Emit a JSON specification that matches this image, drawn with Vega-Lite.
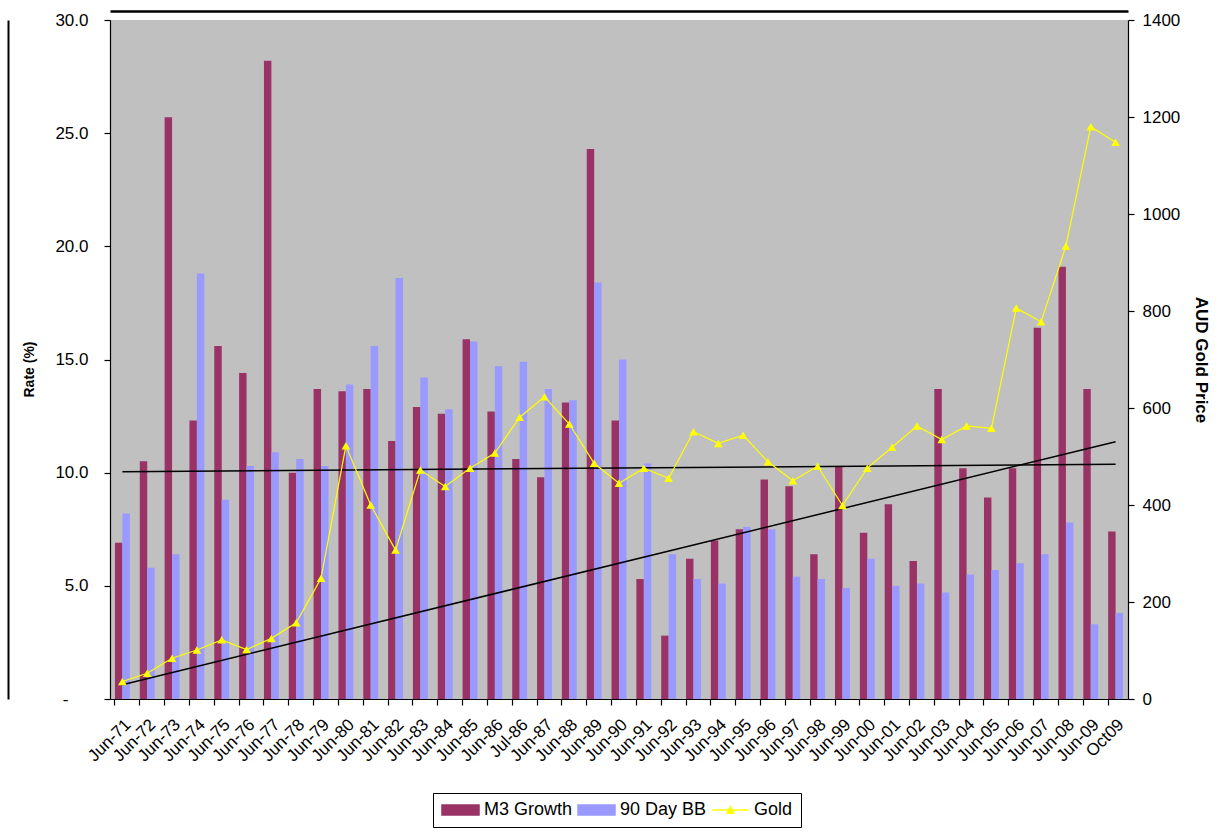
{
  "$schema": "https://vega.github.io/schema/vega-lite/v6.json",
  "autosize": {"type": "none"},
  "padding": {"left": 110, "top": 20, "right": 92, "bottom": 133},
  "width": 1018,
  "height": 679,
  "background": "#FFFFFF",
  "config": {
    "font": "Liberation Sans",
    "view": {"fill": "#C0C0C0", "stroke": null},
    "axis": {
      "grid": false,
      "domainColor": "#000000",
      "domainWidth": 1.2,
      "tickColor": "#000000",
      "tickWidth": 1.2,
      "labelColor": "#000000",
      "labelFont": "Liberation Sans",
      "titleFont": "Liberation Sans",
      "titleColor": "#000000"
    }
  },
  "datasets": {
    "money": [
      {"period": "Jun-71", "M3 Growth": 6.9, "90 Day BB": 8.2, "Gold": 36},
      {"period": "Jun-72", "M3 Growth": 10.5, "90 Day BB": 5.8, "Gold": 53},
      {"period": "Jun-73", "M3 Growth": 25.7, "90 Day BB": 6.4, "Gold": 84},
      {"period": "Jun-74", "M3 Growth": 12.3, "90 Day BB": 18.8, "Gold": 101},
      {"period": "Jun-75", "M3 Growth": 15.6, "90 Day BB": 8.8, "Gold": 122},
      {"period": "Jun-76", "M3 Growth": 14.4, "90 Day BB": 10.3, "Gold": 102},
      {"period": "Jun-77", "M3 Growth": 28.2, "90 Day BB": 10.9, "Gold": 125},
      {"period": "Jun-78", "M3 Growth": 10.0, "90 Day BB": 10.6, "Gold": 157},
      {"period": "Jun-79", "M3 Growth": 13.7, "90 Day BB": 10.3, "Gold": 249},
      {"period": "Jun-80", "M3 Growth": 13.6, "90 Day BB": 13.9, "Gold": 522},
      {"period": "Jun-81", "M3 Growth": 13.7, "90 Day BB": 15.6, "Gold": 400},
      {"period": "Jun-82", "M3 Growth": 11.4, "90 Day BB": 18.6, "Gold": 307},
      {"period": "Jun-83", "M3 Growth": 12.9, "90 Day BB": 14.2, "Gold": 472},
      {"period": "Jun-84", "M3 Growth": 12.6, "90 Day BB": 12.8, "Gold": 438},
      {"period": "Jun-85", "M3 Growth": 15.9, "90 Day BB": 15.8, "Gold": 476},
      {"period": "Jun-86", "M3 Growth": 12.7, "90 Day BB": 14.7, "Gold": 507},
      {"period": "Jul-86", "M3 Growth": 10.6, "90 Day BB": 14.9, "Gold": 581},
      {"period": "Jun-87", "M3 Growth": 9.8, "90 Day BB": 13.7, "Gold": 623},
      {"period": "Jun-88", "M3 Growth": 13.1, "90 Day BB": 13.2, "Gold": 567},
      {"period": "Jun-89", "M3 Growth": 24.3, "90 Day BB": 18.4, "Gold": 486},
      {"period": "Jun-90", "M3 Growth": 12.3, "90 Day BB": 15.0, "Gold": 445},
      {"period": "Jun-91", "M3 Growth": 5.3, "90 Day BB": 10.4, "Gold": 476},
      {"period": "Jun-92", "M3 Growth": 2.8, "90 Day BB": 6.4, "Gold": 455},
      {"period": "Jun-93", "M3 Growth": 6.2, "90 Day BB": 5.3, "Gold": 551},
      {"period": "Jun-94", "M3 Growth": 7.0, "90 Day BB": 5.1, "Gold": 527},
      {"period": "Jun-95", "M3 Growth": 7.5, "90 Day BB": 7.6, "Gold": 544},
      {"period": "Jun-96", "M3 Growth": 9.7, "90 Day BB": 7.5, "Gold": 489},
      {"period": "Jun-97", "M3 Growth": 9.4, "90 Day BB": 5.4, "Gold": 450},
      {"period": "Jun-98", "M3 Growth": 6.4, "90 Day BB": 5.3, "Gold": 480},
      {"period": "Jun-99", "M3 Growth": 10.3, "90 Day BB": 4.9, "Gold": 399},
      {"period": "Jun-00", "M3 Growth": 7.35, "90 Day BB": 6.2, "Gold": 476},
      {"period": "Jun-01", "M3 Growth": 8.6, "90 Day BB": 5.0, "Gold": 519},
      {"period": "Jun-02", "M3 Growth": 6.1, "90 Day BB": 5.1, "Gold": 563},
      {"period": "Jun-03", "M3 Growth": 13.7, "90 Day BB": 4.7, "Gold": 535},
      {"period": "Jun-04", "M3 Growth": 10.2, "90 Day BB": 5.5, "Gold": 563},
      {"period": "Jun-05", "M3 Growth": 8.9, "90 Day BB": 5.7, "Gold": 558},
      {"period": "Jun-06", "M3 Growth": 10.2, "90 Day BB": 6.0, "Gold": 806},
      {"period": "Jun-07", "M3 Growth": 16.4, "90 Day BB": 6.4, "Gold": 778},
      {"period": "Jun-08", "M3 Growth": 19.1, "90 Day BB": 7.8, "Gold": 934},
      {"period": "Jun-09", "M3 Growth": 13.7, "90 Day BB": 3.3, "Gold": 1180},
      {"period": "Oct09", "M3 Growth": 7.4, "90 Day BB": 3.8, "Gold": 1148}
    ],
    "trend": [
      {"line": "flat", "period": "Jun-71", "rate": 10.04},
      {"line": "flat", "period": "Oct09", "rate": 10.37},
      {"line": "rise", "period": "Jun-71", "rate": 0.63},
      {"line": "rise", "period": "Oct09", "rate": 11.37}
    ]
  },
  "layer": [
    {
      "encoding": {
        "x": {
          "field": "period",
          "type": "nominal",
          "sort": null,
          "scale": {"paddingInner": 0.4, "paddingOuter": 0.2},
          "axis": {
            "title": null,
            "labelAngle": -45,
            "labelFontSize": 17,
            "labelPadding": 11,
            "tickSize": 6,
            "bandPosition": 0,
            "labelOffset": 0,
            "labelOverlap": false
          }
        }
      },
      "layer": [
        {
          "data": {"name": "money"},
          "transform": [{"fold": ["M3 Growth", "90 Day BB"], "as": ["series", "rate"]}],
          "mark": {"type": "bar"},
          "encoding": {
            "xOffset": {
              "field": "series",
              "type": "nominal",
              "scale": {"domain": ["M3 Growth", "90 Day BB"], "paddingInner": 0}
            },
            "y": {
              "field": "rate",
              "type": "quantitative",
              "scale": {"domain": [0, 30], "nice": false},
              "axis": {
                "title": "Rate (%)",
                "titleFontSize": 14,
                "titleFontWeight": "bold",
                "titlePadding": 18,
                "titleY": 349,
                "labelFontSize": 17,
                "labelPadding": {"condition": {"test": "datum.value == 0", "value": 36}, "value": 16},
                "tickSize": 6,
                "values": [0, 5, 10, 15, 20, 25, 30],
                "labelExpr": "datum.value == 0 ? '-' : format(datum.value, '.1f')"
              }
            },
            "color": {
              "field": "series",
              "type": "nominal",
              "scale": {
                "domain": ["M3 Growth", "90 Day BB", "Gold"],
                "range": ["#993366", "#9999FF", "#FFFF00"]
              },
              "legend": {
                "title": null,
                "orient": "none",
                "legendX": 323,
                "legendY": 773,
                "direction": "horizontal",
                "strokeColor": "#000000",
                "fillColor": "#FFFFFF",
                "padding": 8,
                "columnPadding": 2,
                "labelFontSize": 18,
                "labelColor": "#000000",
                "labelFont": "Liberation Sans",
                "labelOffset": 25,
                "symbolSize": 256,
                "encode": {
                  "symbols": {
                    "update": {
                      "shape": {"signal": "datum.value === 'Gold' ? 'M-1,0H3.625M0.9,0.4L1.31,-0.4L1.72,0.4Z' : 'M-1,-0.625H3.625V0.625H-1Z'"},
                      "fill": {"signal": "datum.value === 'M3 Growth' ? '#993366' : datum.value === '90 Day BB' ? '#9999FF' : '#FFFF00'"},
                      "stroke": {"signal": "datum.value === 'Gold' ? '#FFFF00' : 'transparent'"},
                      "strokeWidth": {"value": 1.5},
                      "opacity": {"value": 1}
                    }
                  }
                }
              }
            }
          }
        },
        {
          "data": {"name": "trend"},
          "mark": {"type": "line", "color": "#000000", "strokeWidth": 1.5},
          "encoding": {
            "y": {
              "field": "rate",
              "type": "quantitative",
              "scale": {"domain": [0, 30], "nice": false},
              "axis": {
                "orient": "left",
                "offset": 102,
                "title": null,
                "labels": false,
                "ticks": false,
                "domainWidth": 2
              }
            },
            "detail": {"field": "line"}
          }
        }
      ],
      "resolve": {"scale": {"y": "independent"}}
    },
    {
      "data": {"name": "money"},
      "mark": {
        "type": "line",
        "strokeWidth": 1.2,
        "point": {"shape": "triangle-up", "filled": true, "size": 75}
      },
      "encoding": {
        "x": {
          "field": "period",
          "type": "nominal",
          "sort": null,
          "scale": {"paddingInner": 0.4, "paddingOuter": 0.2},
          "axis": {
            "orient": "top",
            "offset": 9,
            "title": null,
            "labels": false,
            "ticks": false,
            "domainWidth": 2.5
          }
        },
        "y": {
          "field": "Gold",
          "type": "quantitative",
          "scale": {"domain": [0, 1400], "nice": false},
          "axis": {
            "orient": "right",
            "title": "AUD Gold Price",
            "titleFontSize": 17,
            "titleFontWeight": "bold",
            "titlePadding": 12,
            "labelFontSize": 17,
            "labelPadding": 8,
            "tickSize": 6,
            "values": [0, 200, 400, 600, 800, 1000, 1200, 1400],
            "format": "d"
          }
        },
        "color": {"datum": "Gold"}
      }
    }
  ],
  "resolve": {"scale": {"x": "independent", "y": "independent"}}
}
